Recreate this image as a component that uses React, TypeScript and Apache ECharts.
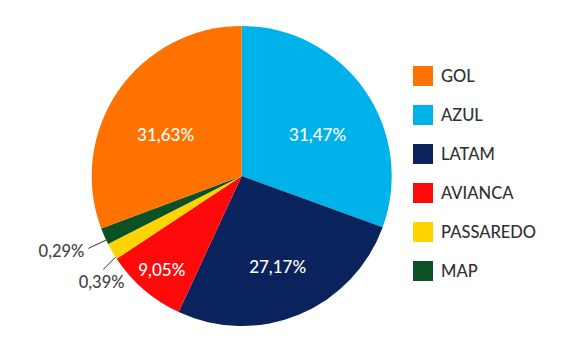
import React, { useEffect, useRef } from "react";
import * as echarts from "echarts";

const legendOrder = ["GOL", "AZUL", "LATAM", "AVIANCA", "PASSAREDO", "MAP"];
// clockwise from 12 o'clock
const categories = ["AZUL", "LATAM", "AVIANCA", "PASSAREDO", "MAP", "GOL"];
const values = [31.47, 27.17, 9.05, 0.39, 0.29, 31.63];
const colors: Record<string, string> = {
  GOL: "#FF7200",
  AZUL: "#00B2EA",
  LATAM: "#0B235C",
  AVIANCA: "#FF0A0A",
  PASSAREDO: "#FFD400",
  MAP: "#0C5125",
};
const outsideNames = ["PASSAREDO", "MAP"];
// label nudges for inside labels (dx, dy)
const insideNudge: Record<string, [number, number]> = {
  AZUL: [12, 3],
  LATAM: [6, 18],
  AVIANCA: [-29, 34],
  GOL: [-12, 3],
};

const fmt = (v: number) => v.toFixed(2).replace(".", ",") + "%";
const FONT = "Lato";

export default function App() {
  const ref = useRef<HTMLDivElement>(null);
  useEffect(() => {
    if (!ref.current) return;
    const chart = echarts.init(ref.current, null, { renderer: "svg" });
    const data = categories.map((name, i) => {
      const outside = outsideNames.includes(name);
      return {
        name,
        value: values[i],
        itemStyle: { color: colors[name] },
        label: outside
          ? {
              position: "outside",
              color: "#444",
              fontSize: 16.5,
              distanceToLabelLine: 4,
            }
          : { position: "inside", color: "#fff", fontSize: 17 },
        labelLine: outside
          ? { show: true, length: 19, length2: 0, lineStyle: { color: "#333", width: 1 } }
          : { show: false },
      };
    });
    chart.setOption({
      animation: false,
      legend: {
        orient: "vertical",
        left: 413,
        top: 66,
        padding: 0,
        itemWidth: 20,
        itemHeight: 20,
        itemGap: 19,
        icon: "rect",
        data: legendOrder,
        textStyle: {
          fontFamily: FONT,
          fontSize: 16.5,
          fontWeight: 500,
          color: "#333",
          padding: [0, 0, 0, 3],
        },
      },
      series: [
        {
          type: "pie",
          center: [241.7, 176],
          radius: 150,
          startAngle: 90,
          clockwise: true,
          minAngle: 6.5,
          avoidLabelOverlap: false,
          label: {
            show: true,
            fontFamily: FONT,
            fontWeight: 500,
            formatter: (p: any) => fmt(p.value),
          },
          emphasis: { disabled: true },
          data,
          labelLayout: (params: any) => {
            const name = categories[params.dataIndex];
            if (insideNudge[name]) {
              const [dx, dy] = insideNudge[name];
              return { dx, dy };
            }
            const pts = params.labelLinePoints;
            if (!pts) return {};
            const p0 = pts[0];
            if (name === "PASSAREDO") {
              const start = [p0[0] + 9, p0[1]];
              const end = [p0[0] - 9, p0[1] + 18];
              return {
                x: end[0] - 1.5,
                y: end[1] + 4,
                align: "center",
                verticalAlign: "top",
                labelLinePoints: [start, end],
              };
            }
            if (name === "MAP") {
              const start = [p0[0] + 3, p0[1] + 3];
              const end = [p0[0] - 16, p0[1] + 12];
              return {
                x: end[0] - 4,
                y: end[1] + 2.5,
                align: "right",
                verticalAlign: "middle",
                labelLinePoints: [start, end],
              };
            }
            return {};
          },
        },
      ],
    });
    return () => chart.dispose();
  }, []);
  return (
    <div
      ref={ref}
      style={{ position: "fixed", left: 0, top: 0, width: 578, height: 351, background: "#fff" }}
    />
  );
}
